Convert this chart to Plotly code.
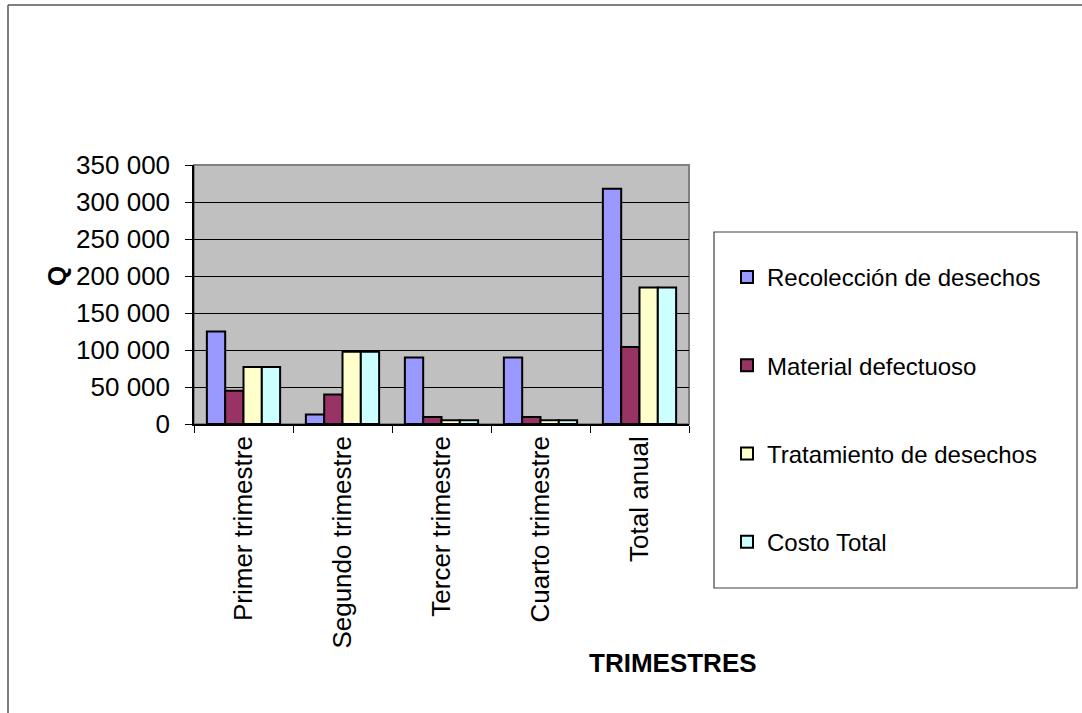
import plotly.graph_objects as go

# Costs per quarter (Q)
trimestres = ["Primer trimestre", "Segundo trimestre", "Tercer trimestre",
              "Cuarto trimestre", "Total anual"]
recoleccion = [125000, 13000, 90000, 90000, 318000]
material = [45000, 40000, 9500, 9500, 104000]
tratamiento = [77000, 97500, 5000, 5000, 184500]
costo_total = [77000, 97500, 5000, 5000, 184500]

series = [
    ("Recolección de desechos", recoleccion, "#9999FF"),
    ("Material defectuoso", material, "#993366"),
    ("Tratamiento de desechos", tratamiento, "#FFFFCC"),
    ("Costo Total", costo_total, "#CCFFFF"),
]

FONT = "Liberation Sans, Arial, sans-serif"
W, H = 1082, 713
L, R, T, B = 194, 689, 165, 424  # plot area in pixels


def px(x):
    return (x - L) / (R - L)


def py(y):
    return (B - y) / (B - T)


fig = go.Figure()
for i, (name, vals, color) in enumerate(series):
    fig.add_trace(go.Bar(
        x=trimestres, y=vals, name=name, legendgroup=str(i),
        marker=dict(color=color, line=dict(color="black", width=2)),
    ))

fig.update_layout(
    width=W, height=H,
    margin=dict(l=L, r=W - R, t=T, b=H - B, autoexpand=False),
    paper_bgcolor="white", plot_bgcolor="#C0C0C0",
    separators=", ",
    barmode="group", bargap=0.26, bargroupgap=0,
    font=dict(family=FONT, size=24, color="black"),
    showlegend=True,
    legend=dict(
        x=px(727), y=py(255), xanchor="left", yanchor="top",
        bgcolor="rgba(0,0,0,0)", borderwidth=0,
        font=dict(size=24), tracegroupgap=54, maxheight=600,
        itemsizing="constant",
    ),
    xaxis=dict(
        type="category", tickangle=-90, tickson="boundaries",
        ticks="outside", ticklen=7, tickcolor="black",
        showline=True, linecolor="black", linewidth=1.5,
        showgrid=False, tickfont=dict(size=26),
    ),
    yaxis=dict(
        range=[0, 350000], dtick=50000, tickformat=",d",
        ticks="outside", ticklen=7, tickcolor="black",
        showline=True, linecolor="black", linewidth=1.5,
        showgrid=True, gridcolor="black", gridwidth=1,
        zeroline=False, tickfont=dict(size=26), ticklabelstandoff=10,
    ),
    shapes=[
        # plot area border
        dict(type="rect", xref="paper", yref="paper", x0=0, x1=1, y0=0, y1=1,
             line=dict(color="#808080", width=2), layer="below"),
        # chart frame
        dict(type="line", xref="paper", yref="paper",
             x0=px(8), x1=px(1100), y0=py(5), y1=py(5),
             line=dict(color="#555555", width=1.5)),
        dict(type="line", xref="paper", yref="paper",
             x0=px(8), x1=px(8), y0=py(5), y1=py(730),
             line=dict(color="#555555", width=1.5)),
        # legend frame
        dict(type="rect", xref="paper", yref="paper",
             x0=px(714), x1=px(1077), y0=py(588), y1=py(232),
             line=dict(color="#404040", width=1.2), fillcolor="white",
             layer="below"),
    ],
    annotations=[
        dict(text="<b>Q</b>", xref="paper", yref="paper",
             x=px(57), y=py(276), xanchor="center", yanchor="middle",
             showarrow=False, textangle=-90, font=dict(size=26)),
        dict(text="<b>TRIMESTRES</b>", xref="paper", yref="paper",
             x=px(673), y=py(663), xanchor="center", yanchor="middle",
             showarrow=False, font=dict(size=26)),
    ],
)

fig.write_html("out.html")
